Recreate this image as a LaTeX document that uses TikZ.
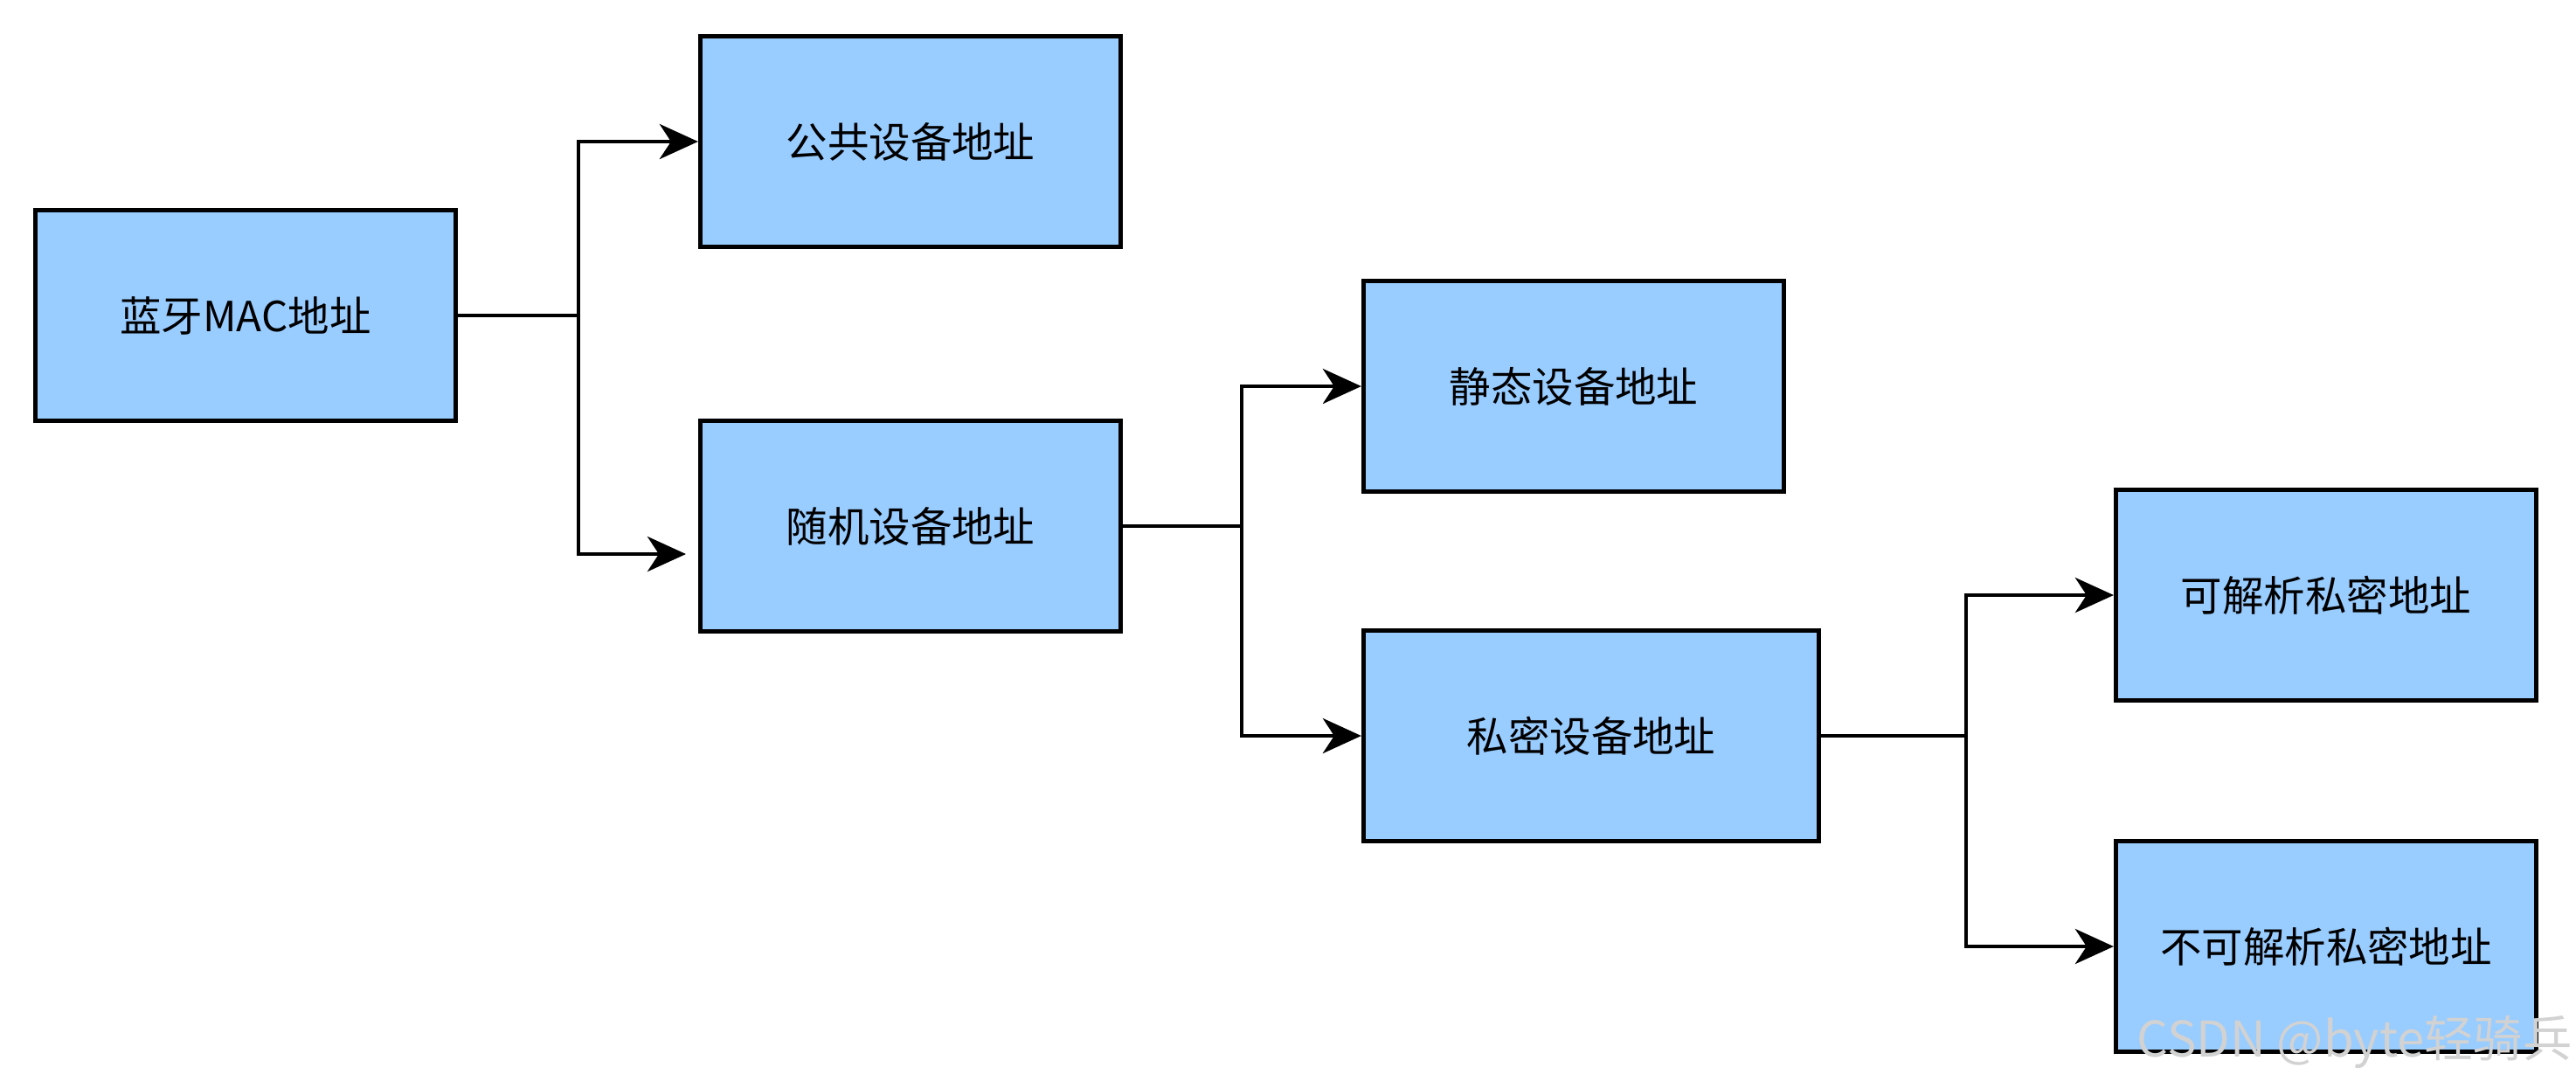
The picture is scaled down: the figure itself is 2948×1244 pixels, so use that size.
\documentclass[tikz,border=0pt]{standalone}
\usepackage{fontspec}
\setmainfont{Noto Sans CJK SC}
\usetikzlibrary{arrows.meta,positioning}
\definecolor{addrblue}{HTML}{99CCFF}
\definecolor{markgray}{HTML}{D2D2D2}
\tikzset{
  addrbox/.style={draw=black,fill=addrblue,line width=1.4pt,minimum width=4.81cm,minimum height=2.41cm,inner sep=0pt,font=\fontsize{13.5}{16}\selectfont},
  wideaddrbox/.style={addrbox,minimum width=5.21cm},
  branch/.style={black,line width=1.3pt},
  brancharrow/.style={branch,-{Stealth[length=0.44cm,width=0.4cm,inset=0.13cm]}},
  watermark/.style={text=markgray,inner sep=0pt,font=\fontsize{16}{18}\selectfont}
}

\begin{document}
\begin{tikzpicture}[x=0.01cm,y=-0.01cm]
\useasboundingbox (0,0) rectangle (2948,1244);
% address boxes
\node[addrbox] (mac) at (281,361) {蓝牙MAC地址};
\node[addrbox] (public) at (1042,162) {公共设备地址};
\node[addrbox] (random) at (1042,602) {随机设备地址};
\node[addrbox] (static) at (1801,442) {静态设备地址};
\node[wideaddrbox] (private) at (1821,842) {私密设备地址};
\node[addrbox] (resolvable) at (2662,681) {可解析私密地址};
\node[addrbox] (nonresolvable) at (2662,1083) {不可解析私密地址};
% branch points
\coordinate (jmac) at (662,361);
\coordinate (jrandom) at (1421,602);
\coordinate (jprivate) at (2250,842);
\coordinate (randomtip) at (785,634);
% connectors
\draw[branch] (mac.east) -- (jmac);
\draw[brancharrow] (jmac) |- (public.west);
\draw[brancharrow] (jmac) |- (randomtip);
\draw[branch] (random.east) -- (jrandom);
\draw[brancharrow] (jrandom) |- (static.west);
\draw[brancharrow] (jrandom) |- (private.west);
\draw[branch] (private.east) -- (jprivate);
\draw[brancharrow] (jprivate) |- (resolvable.west);
\draw[brancharrow] (jprivate) |- (nonresolvable.west);
\node[watermark,anchor=east] (mark) at (2944,1192) {CSDN @byte轻骑兵};
\end{tikzpicture}
\end{document}
